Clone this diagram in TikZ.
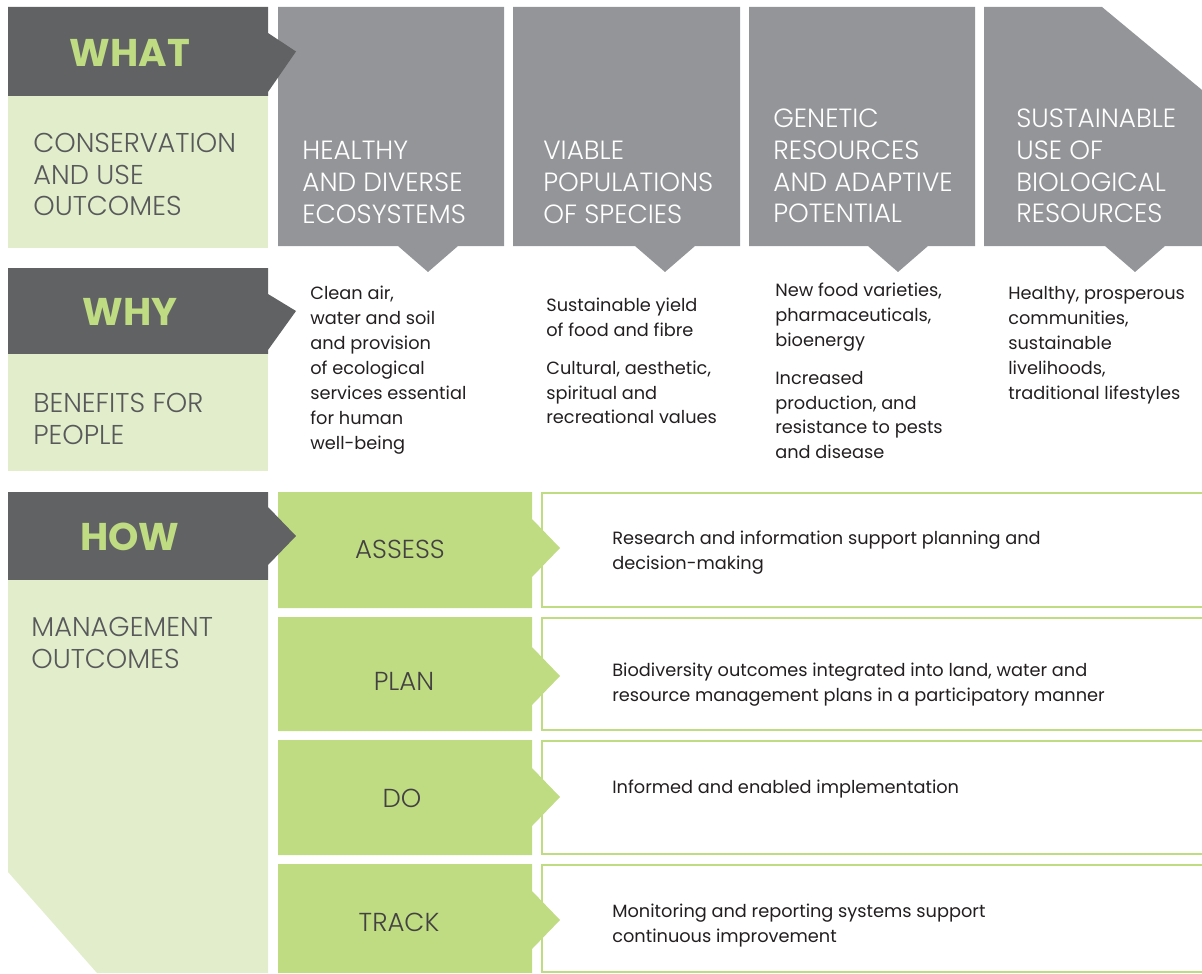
\documentclass[tikz,border=0pt]{standalone}
\usepackage{fontspec}
\setmainfont{Poppins}
\newfontfamily\lightfont{Poppins Light}
\definecolor{darkbox}{HTML}{616264}
\definecolor{colgray}{HTML}{939598}
\definecolor{palegreen}{HTML}{E2EECB}
\definecolor{midgreen}{HTML}{BFDC82}
\definecolor{labelgray}{HTML}{58595B}
\definecolor{bodytext}{HTML}{231F20}

\def\arrowlen{28}
\def\arrowhalf{29}

\begin{document}
\begin{tikzpicture}[x=0.02cm,y=-0.02cm]
    \tikzstyle{bigword}=[font=\bfseries\fontsize{22}{26}\selectfont, text=midgreen, inner sep=0pt]
    \tikzstyle{sidelabel}=[font=\lightfont\fontsize{15.5}{18}\selectfont, text=labelgray, align=left, anchor=north west, inner sep=0pt]
    \tikzstyle{colhead}=[sidelabel, font=\lightfont\fontsize{15}{18}\selectfont, text=white]
    \tikzstyle{benefit}=[font=\fontsize{10.1}{14.2}\selectfont, text=bodytext, align=left, anchor=north west, inner sep=0pt]
    \tikzstyle{stage}=[font=\lightfont\fontsize{14.8}{16}\selectfont, text=bodytext!85, inner sep=0pt]
    \tikzstyle{rowbox}=[draw=midgreen, line width=1.2pt, fill=white]

    \useasboundingbox (0,0) rectangle (1202,973);

    % Draw the grey outcome columns
    \foreach \x/\xe/\tip in {278/504/428, 513/740/665, 749/975/898}
        \fill[colgray] (\x,7) -- (\xe,7) -- (\xe,246) -- (\tip+30,246) -- (\tip,272) -- (\tip-30,246) -- (\x,246) -- cycle;
    \fill[colgray] (984,7) -- (1102,7) -- (1202,90) -- (1202,246) -- (1165,246) -- (1135,272) -- (1105,246) -- (984,246) -- cycle;

    % Draw the management rows: white frame first, then the green step
    \foreach \top/\bot/\mid in {492/608/548, 617/731/676, 740/855/797, 864/973/920}
    {
        \draw[rowbox] (542,\top+1) rectangle (1215,\bot-1);
        \fill[midgreen] (278,\top) -- (532,\top) -- (532,\mid-\arrowhalf) -- (532+\arrowlen,\mid) -- (532,\mid+\arrowhalf) -- (532,\bot) -- (278,\bot) -- cycle;
    }

    % Draw the WHAT and WHY blocks of the left column
    \foreach \top/\bot/\lbot in {7/96/248, 268/354/471}
    {
        \fill[darkbox] (8,\top) -- (268,\top) -- (268,\top+26) -- (296,{(\top+\bot)/2}) -- (268,\bot-4) -- (268,\bot) -- (8,\bot) -- cycle;
        \fill[palegreen] (8,\bot) rectangle (268,\lbot);
    }

    % HOW block, with its cut corner at the bottom
    \fill[darkbox] (8,492) -- (268,492) -- (268,507) -- (296,536) -- (268,565) -- (268,580) -- (8,580) -- cycle;
    \fill[palegreen] (8,580) -- (268,580) -- (268,973) -- (97,973) -- (8,872) -- cycle;

    % Annotate the left column
    \node[bigword] (what) at (130,53) {WHAT};
    \node[bigword] (why) at (130,312) {WHY};
    \node[bigword] (how) at (130,537) {HOW};
    \node[sidelabel] (what-l) at (33,133) {CONSERVATION\\AND USE\\OUTCOMES};
    \node[sidelabel] (why-l) at (33,393) {BENEFITS FOR\\PEOPLE};
    \node[sidelabel] (how-l) at (31,617) {MANAGEMENT\\OUTCOMES};

    % Column headings
    \node[colhead] (C-1) at (302,141) {HEALTHY\\AND DIVERSE\\ECOSYSTEMS};
    \node[colhead] (C-2) at (543,141) {VIABLE\\POPULATIONS\\OF SPECIES};
    \node[colhead] (C-3) at (773,109) {GENETIC\\RESOURCES\\AND ADAPTIVE\\POTENTIAL};
    \node[colhead] (C-4) at (1016,109) {SUSTAINABLE\\USE OF\\BIOLOGICAL\\RESOURCES};

    % Benefits under each column
    \node[benefit] (B-1) at (310,286) {Clean air,\\water and soil\\and provision\\of ecological\\services essential\\for human\\well-being};
    \node[benefit] (B-2) at (546,298) {Sustainable yield\\of food and fibre\\[7pt]Cultural, aesthetic,\\spiritual and\\recreational values};
    \node[benefit] (B-3) at (775,283) {New food varieties,\\pharmaceuticals,\\bioenergy\\[7pt]Increased\\production, and\\resistance to pests\\and disease};
    \node[benefit] (B-4) at (1008,286) {Healthy, prosperous\\communities,\\sustainable\\livelihoods,\\traditional lifestyles};

    % Management steps and what they give
    \foreach \name/\x/\y/\txt/\desc in {
        assess/400/549/ASSESS/{Research and information support planning and\\decision-making},
        plan/404/681/PLAN/{Biodiversity outcomes integrated into land, water and\\resource management plans in a participatory manner},
        do/402/798/DO/{Informed and enabled implementation},
        track/399/922/TRACK/{Monitoring and reporting systems support\\continuous improvement}}
    {
        \node[stage] (S-\name) at (\x,\y) {\txt};
        \node[benefit] (D-\name) at (612,\y-18) {\desc};
    }
\end{tikzpicture}
\end{document}
